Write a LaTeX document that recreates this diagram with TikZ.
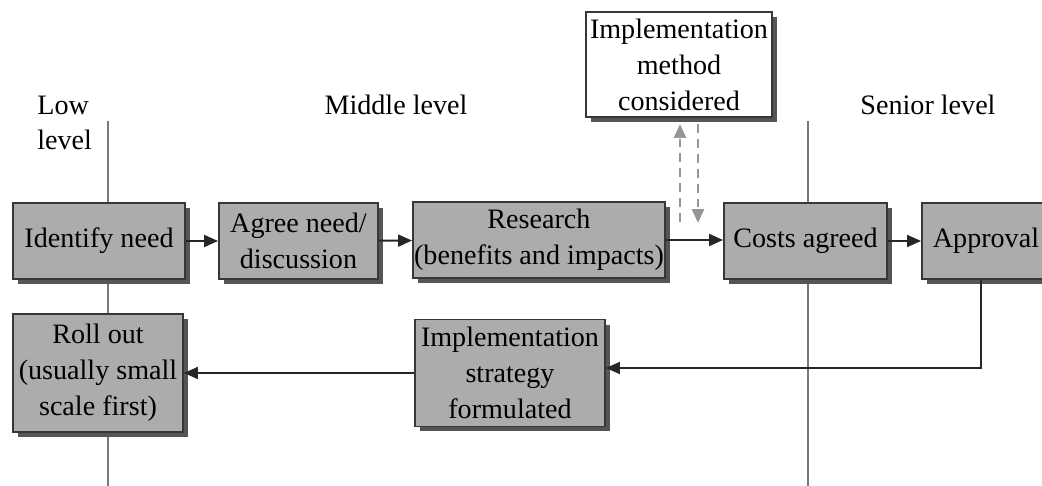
\documentclass[tikz,border=0pt]{standalone}
\usepackage{fontspec}
\setmainfont{Liberation Serif}
\usetikzlibrary{arrows.meta,shadows}
\definecolor{boxfill}{RGB}{172,172,172}
\definecolor{boxline}{RGB}{55,55,55}
\definecolor{shadowc}{RGB}{85,85,85}
\definecolor{levelline}{RGB}{120,120,120}
\definecolor{dashc}{RGB}{150,150,150}
\tikzset{
  stepbox/.style={draw=boxline, line width=1.1pt, fill=boxfill, align=center, inner sep=0pt,
    font=\fontsize{16}{20.5}\selectfont,
    drop shadow={shadow xshift=0.1cm, shadow yshift=-0.1cm, fill=shadowc, opacity=1}},
  whitebox/.style={stepbox, fill=white},
  conn/.style={draw=black!85, line width=1.1pt, -{Triangle[length=0.28cm,width=0.24cm]}},
  dconn/.style={draw=dashc, line width=1.4pt, dash pattern=on 5pt off 3.5pt,
    -{Triangle[length=0.28cm,width=0.24cm]}},
  levelline/.style={draw=levelline, line width=1.1pt},
  levellabel/.style={font=\fontsize{16}{20}\selectfont, inner sep=0pt, align=left}
}
\begin{document}
\begin{tikzpicture}[x=0.02cm,y=-0.02cm]
\useasboundingbox (0,0) rectangle (1042,486);
\clip (0,0) rectangle (1042,486);

% level separators
\coordinate (l1top) at (108,121);
\coordinate (l1bot) at (108,486);
\coordinate (l2top) at (808,121);
\coordinate (l2bot) at (808,486);
\draw[levelline] (l1top) -- (l1bot);
\draw[levelline] (l2top) -- (l2bot);

% level labels
\node[levellabel, anchor=base west] (low) at (37,150) {Low\\level};
\node[levellabel, anchor=base] (mid) at (396,115) {Middle level};
\node[levellabel, anchor=base] (sen) at (928,115) {Senior level};

% boxes
\node[stepbox, minimum width=3.44cm, minimum height=1.52cm] (idn) at (99,241) {Identify need};
\node[stepbox, minimum width=3.18cm, minimum height=1.52cm] (agree) at (298.5,241) {Agree need/\\discussion};
\node[stepbox, minimum width=5.04cm, minimum height=1.52cm] (research) at (539,240) {Research\\(benefits and impacts)};
\node[stepbox, minimum width=3.26cm, minimum height=1.52cm] (costs) at (805.5,241) {Costs agreed};
\node[stepbox, minimum width=2.56cm, minimum height=1.52cm] (approval) at (986,241) {Approval};
\node[whitebox, minimum width=3.72cm, minimum height=2.1cm] (method) at (679,64.5) {Implementation\\method\\considered};
\node[stepbox, minimum width=3.4cm, minimum height=2.36cm] (rollout) at (98,373) {Roll out\\(usually small\\scale first)};
\node[stepbox, minimum width=3.8cm, minimum height=2.14cm] (strategy) at (510,373) {Implementation\\strategy\\formulated};

% connectors
\draw[conn] (idn) -- (agree);
\draw[conn] (agree) -- (research);
\draw[conn] (research.east) -- (costs.west |- research.east);
\draw[conn] (costs) -- (approval);
\coordinate (turn) at (981,368);
\draw[conn] (approval.south -| turn) -- (turn) -- (strategy.east |- turn);
\draw[conn] (strategy) -- (rollout);

% dashed two-way link
\coordinate (dupb) at (680,222);
\coordinate (dupt) at (680,124);
\coordinate (ddnt) at (698,124);
\coordinate (ddnb) at (698,223);
\draw[dconn] (dupb) -- (dupt);
\draw[dconn] (ddnt) -- (ddnb);
\end{tikzpicture}
\end{document}
